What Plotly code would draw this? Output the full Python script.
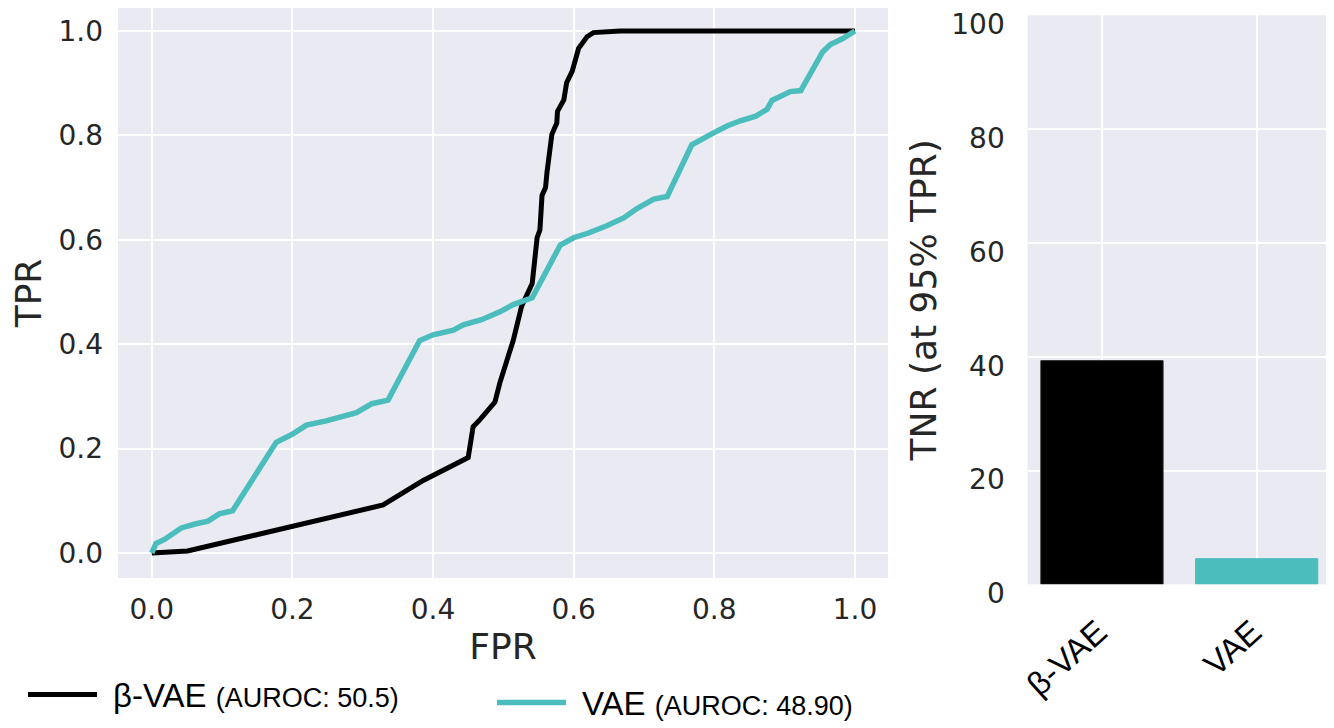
import plotly.graph_objects as go

# ROC curve of beta-VAE
bvae_fpr = [0.0, 0.051, 0.329, 0.386, 0.450, 0.457, 0.467, 0.488, 0.495, 0.514,
            0.526, 0.541, 0.548, 0.552, 0.555, 0.560, 0.562, 0.569, 0.576, 0.577,
            0.586, 0.590, 0.598, 0.607, 0.619, 0.628, 0.666, 1.0]
bvae_tpr = [0.0, 0.004, 0.092, 0.139, 0.183, 0.242, 0.256, 0.289, 0.326, 0.407,
            0.473, 0.516, 0.604, 0.619, 0.685, 0.700, 0.729, 0.802, 0.824, 0.846,
            0.868, 0.901, 0.923, 0.967, 0.989, 0.997, 1.0, 1.0]

# ROC curve of VAE
vae_fpr = [0.0, 0.006, 0.018, 0.042, 0.063, 0.080, 0.096, 0.115, 0.177, 0.199,
           0.220, 0.248, 0.291, 0.313, 0.336, 0.381, 0.400, 0.429, 0.443, 0.469,
           0.495, 0.514, 0.541, 0.581, 0.600, 0.621, 0.647, 0.671, 0.690, 0.714,
           0.733, 0.768, 0.795, 0.818, 0.837, 0.859, 0.875, 0.882, 0.908, 0.923,
           0.954, 0.965, 0.982, 1.0]
vae_tpr = [0.0, 0.018, 0.026, 0.048, 0.056, 0.061, 0.075, 0.081, 0.212, 0.227,
           0.245, 0.253, 0.269, 0.286, 0.293, 0.407, 0.418, 0.427, 0.437, 0.447,
           0.462, 0.476, 0.489, 0.590, 0.604, 0.613, 0.627, 0.642, 0.660, 0.678,
           0.683, 0.782, 0.802, 0.818, 0.828, 0.837, 0.850, 0.867, 0.884, 0.886,
           0.960, 0.974, 0.985, 1.0]

models = ["β-VAE", "VAE"]
auroc_labels = ["50.5", "48.90"]
tnr_at_95 = [39.3, 4.5]

colors = ["#000000", "#4bbdbd"]
tick_font = dict(family="DejaVu Sans", size=28, color="#262626")
title_font = dict(family="DejaVu Sans", size=36, color="#262626")
label_font = dict(family="Liberation Sans, Arial", size=33, color="#000000")


def legend_name(model, auroc):
    return "\u2004" + model + " <span style='font-size:27px'>(AUROC: " + auroc + ")</span>"


fig = go.Figure()

fig.add_trace(go.Scatter(
    x=bvae_fpr, y=bvae_tpr, mode="lines",
    line=dict(color=colors[0], width=5),
    name=legend_name(models[0], auroc_labels[0]),
    legend="legend",
))
fig.add_trace(go.Scatter(
    x=vae_fpr, y=vae_tpr, mode="lines",
    line=dict(color=colors[1], width=5.5),
    name=legend_name(models[1], auroc_labels[1]),
    legend="legend2",
))

fig.add_trace(go.Bar(
    x=[0, 1], y=tnr_at_95, width=0.79,
    marker=dict(color=colors, line=dict(color=["#222222", colors[1]], width=1)),
    xaxis="x2", yaxis="y2", showlegend=False,
))

fig.update_layout(
    width=1326, height=720,
    margin=dict(l=0, r=0, t=0, b=0, autoexpand=False),
    paper_bgcolor="white",
    plot_bgcolor="#eaeaf2",
    xaxis=dict(
        domain=[0.08296, 0.66365], range=[-0.048, 1.047],
        tickvals=[0, 0.2, 0.4, 0.6, 0.8, 1.0], tickformat=".1f",
        tickfont=tick_font, gridcolor="white", gridwidth=1.5,
        zeroline=False, showline=False, ticklabelstandoff=12,
        title=dict(text="FPR", font=title_font, standoff=10),
    ),
    yaxis=dict(
        domain=[0.20833, 1.0], range=[-0.0479, 1.0441],
        tickvals=[0, 0.2, 0.4, 0.6, 0.8, 1.0], tickformat=".1f",
        tickfont=tick_font, gridcolor="white", gridwidth=1.5,
        zeroline=False, showline=False, ticklabelstandoff=14,
        title=dict(text="TPR", font=title_font, standoff=12),
    ),
    xaxis2=dict(
        domain=[0.76901, 0.99698], range=[-0.48, 1.474], anchor="y2",
        tickvals=[0, 1], ticktext=models, tickangle=-42,
        tickfont=label_font,
        gridcolor="white", gridwidth=1.5, zeroline=False, showline=False,
        ticklabelstandoff=21, ticklabelshift=-4,
    ),
    yaxis2=dict(
        domain=[0.19958, 0.98986], range=[0, 100], anchor="x2",
        tickvals=[0, 20, 40, 60, 80, 100],
        tickfont=tick_font, gridcolor="white", gridwidth=1.5,
        zeroline=False, showline=False, ticklabelstandoff=22,
        ticklabelshift=9,
        title=dict(text="TNR (at 95% TPR)", font=title_font, standoff=3),
    ),
    legend=dict(
        orientation="h", xref="container", yref="container",
        x=0.0113, y=0.0465, xanchor="left", yanchor="middle",
        font=label_font, bgcolor="rgba(0,0,0,0)", itemwidth=69,
    ),
    legend2=dict(
        orientation="h", xref="container", yref="container",
        x=0.365, y=0.0354, xanchor="left", yanchor="middle",
        font=label_font, bgcolor="rgba(0,0,0,0)", itemwidth=69,
    ),
)

fig.write_html("out.html")
